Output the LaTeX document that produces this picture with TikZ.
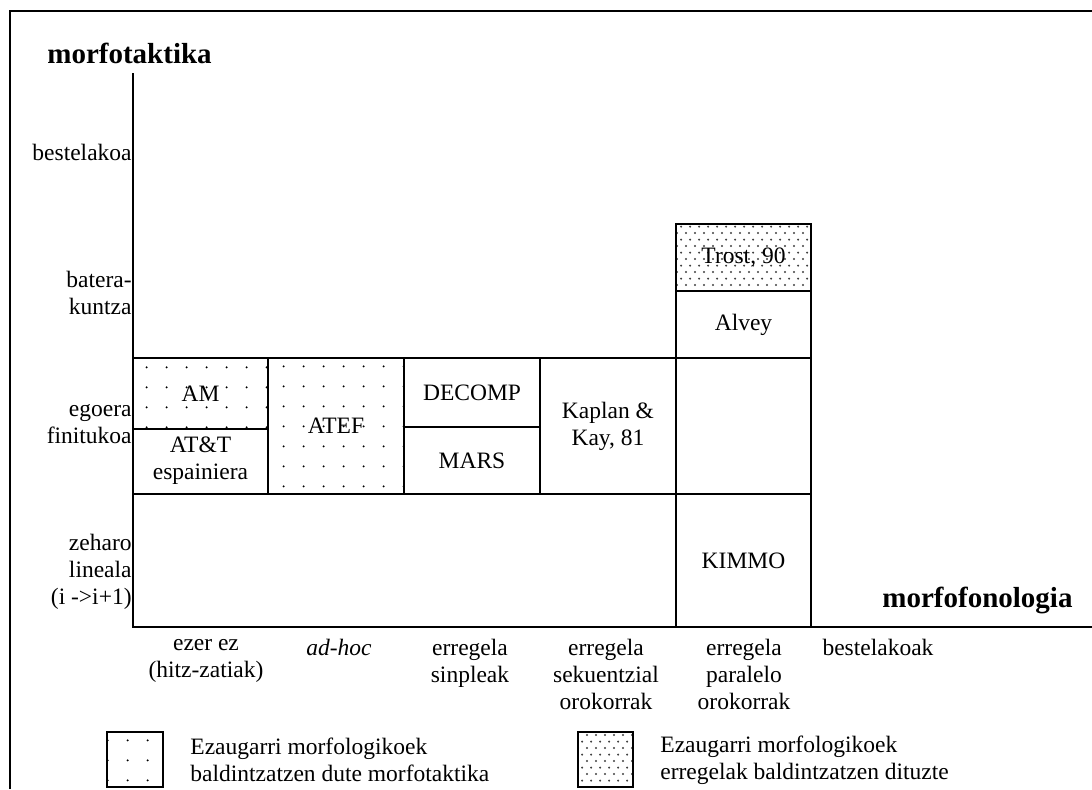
\documentclass[tikz,border=0pt]{standalone}
\usepackage{fontspec}
\setmainfont{Liberation Serif}
\usetikzlibrary{patterns.meta}

%% dot fills
\tikzdeclarepattern{
  name=sparsedots, type=uncolored,
  bounding box={(0pt,0pt) and (9.8pt,9.8pt)},
  tile size={(9.8pt,9.8pt)},
  code={\fill (4.9pt,4.9pt) circle (0.55pt);}
}
\tikzdeclarepattern{
  name=densedots, type=uncolored,
  bounding box={(0pt,0pt) and (4.5pt,6.6pt)},
  tile size={(4.5pt,6.6pt)},
  code={\fill (1.1pt,1.6pt) circle (0.6pt);
        \fill (3.35pt,4.9pt) circle (0.6pt);}
}

\begin{document}
\begin{tikzpicture}[
  x=0.5pt, y=-0.5pt,
  font=\fontsize{11.75pt}{13.5pt}\selectfont,
  cell/.style={draw, line width=1pt},
  txt/.style={inner sep=0pt, align=center},
  ylab/.style={inner sep=0pt, align=right, anchor=east},
  xlab/.style={inner sep=0pt, align=center, anchor=north},
  legtxt/.style={inner sep=0pt, align=left, anchor=west},
  axistitle/.style={inner sep=0pt, font=\fontsize{14.5pt}{16pt}\selectfont\bfseries},
  axis/.style={line width=1pt},
  frame/.style={line width=1.3pt},
  morfdots/.style={pattern={sparsedots}, pattern color=black},
  ruledots/.style={pattern={densedots}, pattern color=black!75}
]
\useasboundingbox (0,0) rectangle (1092,789);

%% frame
\draw[frame] (10,789) -- (10,11) -- (1092,11);

%% cells
\draw[cell, morfdots] (133,358) rectangle (268,429);
\draw[cell] (133,429) rectangle (268,494);
\draw[cell, morfdots] (268,358) rectangle (404,494);
\draw[cell] (404,358) rectangle (540,427);
\draw[cell] (404,427) rectangle (540,494);
\draw[cell] (540,358) rectangle (676,494);
\draw[cell, ruledots] (676,224) rectangle (811,291);
\draw[cell] (676,291) rectangle (811,358);
\draw[cell] (676,358) rectangle (811,494);
\draw[cell] (676,494) rectangle (811,627);

\node[txt] (am)     at (200.5,393.5) {AM};
\node[txt] (att)    at (200.5,461)   {AT\&T\\espainiera};
\node[txt] (atef)   at (336,426)     {ATEF};
\node[txt] (decomp) at (472,392.5)   {DECOMP};
\node[txt] (mars)   at (472,460.5)   {MARS};
\node[txt] (kaplan) at (608,426)     {Kaplan \&\\Kay, 81};
\node[txt] (trost)  at (743.5,257.5) {Trost, 90};
\node[txt] (alvey)  at (743.5,324.5) {Alvey};
\node[txt] (kimmo)  at (743.5,560.5) {KIMMO};

%% axes
\draw[axis] (133,73) -- (133,627) -- (1092,627);
\node[axistitle, anchor=west] (taktika) at (47,53)  {morfotaktika};
\node[axistitle, anchor=west] (fonolog) at (882,600) {morfofonologia};

%% morfotaktika levels
\node[ylab] (bestea)  at (132,152) {bestelakoa};
\node[ylab] (batera)  at (132,293) {batera-\\kuntza};
\node[ylab] (egoera)  at (132,424) {egoera\\finitukoa};
\node[ylab] (zeharo)  at (132,572) {zeharo\\lineala\\(i ->i+1)};

%% morfofonologia levels
\node[xlab] (ezer)   at (206,639) {ezer ez\\(hitz-zatiak)};
\node[xlab] (adhoc)  at (339,639) {\textit{ad-hoc}};
\node[xlab] (sinple) at (470,639) {erregela\\sinpleak};
\node[xlab] (sekuen) at (606,639) {erregela\\sekuentzial\\orokorrak};
\node[xlab] (parale) at (744,639) {erregela\\paralelo\\orokorrak};
\node[xlab] (bestek) at (878,639) {bestelakoak};

%% legend
\draw[cell, morfdots] (107,732) rectangle (163,787);
\node[legtxt] (leg1) at (190,760) {Ezaugarri morfologikoek\\baldintzatzen dute morfotaktika};
\draw[cell, ruledots] (578,732) rectangle (633,787);
\node[legtxt] (leg2) at (660,760) {Ezaugarri morfologikoek\\erregelak baldintzatzen dituzte};

\end{tikzpicture}
\end{document}
